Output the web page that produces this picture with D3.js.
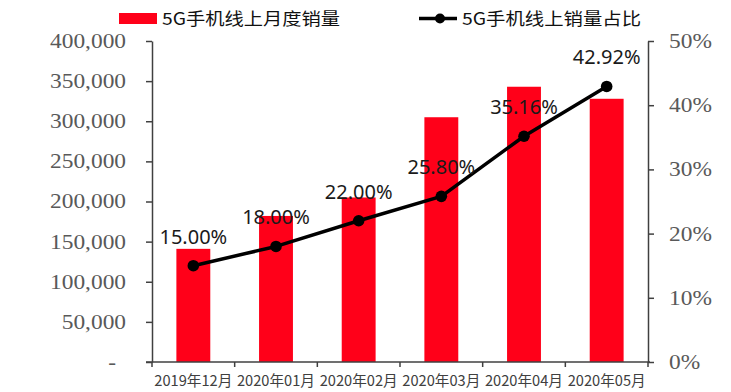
<!DOCTYPE html>
<html>
<head>
<meta charset="utf-8">
<script src="https://cdn.jsdelivr.net/npm/d3@7"></script>
<style>
  html, body { margin: 0; padding: 0; background: #fff; }
  svg { display: block; }
</style>
</head>
<body>
<script>
const categories = ["2019年12月", "2020年01月", "2020年02月", "2020年03月", "2020年04月", "2020年05月"];
const salesValues = [141000, 182000, 205000, 305000, 343000, 328000];
const shareValues = [15.00, 18.00, 22.00, 25.80, 35.16, 42.92];
const leftTicks = [0, 50000, 100000, 150000, 200000, 250000, 300000, 350000, 400000];
const rightTicks = [0, 10, 20, 30, 40, 50];
const legendLabels = ["5G手机线上月度销量", "5G手机线上销量占比"];

const W = 731, H = 392;
const plot = { left: 152, right: 648, top: 41, bottom: 362 };
const barColor = "#FF0019";
const axisColor = "#404040";
const tickTextColor = "#595959";
const sx = 1.17;

const svg = d3.select("body").append("svg").attr("width", W).attr("height", H);

const x = d3.scaleBand().domain(categories).range([plot.left, plot.right]).padding(0);
const yL = d3.scaleLinear().domain([0, 400000]).range([plot.bottom, plot.top]);
const yR = d3.scaleLinear().domain([0, 50]).range([plot.bottom, plot.top]);
const bw = x.bandwidth();
const barW = bw * 0.41;

// Bars
svg.append("g").selectAll("rect").data(categories).join("rect")
  .attr("x", (d) => x(d) + (bw - barW) / 2)
  .attr("y", (d, i) => yL(salesValues[i]))
  .attr("width", barW)
  .attr("height", (d, i) => yL(0) - yL(salesValues[i]))
  .attr("fill", barColor);

// Left axis
const fmt = d3.format(",");
const gL = svg.append("g").attr("transform", `translate(${plot.left},0)`)
  .call(d3.axisLeft(yL).tickValues(leftTicks).tickSize(6).tickSizeOuter(0)
    .tickFormat((d) => d === 0 ? "-" : fmt(d)));
gL.select(".domain").attr("stroke", axisColor).attr("stroke-width", 1.5);
gL.selectAll(".tick line").attr("stroke", axisColor).attr("stroke-width", 1.5);
gL.selectAll(".tick text")
  .attr("x", (d) => d === 0 ? -36 / sx : -26 / sx)
  .attr("transform", `scale(${sx},1)`)
  .attr("fill", tickTextColor)
  .style("font-family", "'Liberation Serif', 'Times New Roman', serif")
  .style("font-size", "20px");

// Right axis
const gR = svg.append("g").attr("transform", `translate(${plot.right},0)`)
  .call(d3.axisRight(yR).tickValues(rightTicks).tickSize(6).tickSizeOuter(0)
    .tickFormat((d) => d + "%"));
gR.select(".domain").attr("stroke", axisColor).attr("stroke-width", 1.5);
gR.selectAll(".tick line").attr("stroke", axisColor).attr("stroke-width", 1.5);
gR.selectAll(".tick text")
  .attr("x", 21 / sx)
  .attr("transform", `scale(${sx},1)`)
  .attr("fill", tickTextColor)
  .style("font-family", "'Liberation Serif', 'Times New Roman', serif")
  .style("font-size", "20px");

// Bottom axis line and boundary ticks
const bounds = categories.map((c) => x(c)).concat([plot.right]);
const gB = svg.append("g");
gB.append("line").attr("x1", plot.left - 6).attr("x2", plot.right + 2)
  .attr("y1", plot.bottom).attr("y2", plot.bottom)
  .attr("stroke", axisColor).attr("stroke-width", 1.5);
gB.selectAll("line.bt").data(bounds).join("line").attr("class", "bt")
  .attr("x1", (d) => d).attr("x2", (d) => d)
  .attr("y1", plot.bottom).attr("y2", plot.bottom + 5)
  .attr("stroke", axisColor).attr("stroke-width", 1.5);
gB.selectAll("text").data(categories).join("text")
  .attr("x", (d) => x(d) + bw / 2)
  .attr("y", 380.5)
  .attr("dy", "0.35em")
  .attr("text-anchor", "middle")
  .attr("textLength", 78)
  .attr("lengthAdjust", "spacingAndGlyphs")
  .attr("fill", "#404040")
  .style("font-family", "'Noto Sans CJK SC', sans-serif")
  .style("font-size", "15px")
  .text((d) => d);

// Line
const line = d3.line()
  .x((d, i) => x(categories[i]) + bw / 2)
  .y((d) => yR(d));
svg.append("path").datum(shareValues)
  .attr("d", line)
  .attr("fill", "none")
  .attr("stroke", "#000")
  .attr("stroke-width", 3.5)
  .attr("stroke-linejoin", "round");
svg.append("g").selectAll("circle").data(shareValues).join("circle")
  .attr("cx", (d, i) => x(categories[i]) + bw / 2)
  .attr("cy", (d) => yR(d))
  .attr("r", 5.8)
  .attr("fill", "#000");

// Data labels
svg.append("g").selectAll("text").data(shareValues).join("text")
  .attr("x", (d, i) => x(categories[i]) + bw / 2)
  .attr("y", (d) => yR(d) - 22)
  .attr("text-anchor", "middle")
  .attr("fill", "#1a1a1a")
  .style("font-family", "'Noto Sans', sans-serif")
  .style("font-size", "20px")
  .text((d) => d.toFixed(2) + "%");

// Legend
const lg = svg.append("g");
lg.append("rect").attr("x", 119).attr("y", 13).attr("width", 38).attr("height", 11).attr("fill", barColor);
lg.append("text").attr("x", 162).attr("y", 19.5).attr("dy", "0.35em")
  .attr("textLength", 178).attr("lengthAdjust", "spacingAndGlyphs")
  .attr("fill", "#111")
  .style("font-family", "'Noto Sans CJK SC', sans-serif").style("font-size", "17px")
  .text(legendLabels[0]);
lg.append("line").attr("x1", 419).attr("x2", 457).attr("y1", 18.5).attr("y2", 18.5)
  .attr("stroke", "#000").attr("stroke-width", 3.5);
lg.append("circle").attr("cx", 440).attr("cy", 18.5).attr("r", 5).attr("fill", "#000");
lg.append("text").attr("x", 462).attr("y", 19.5).attr("dy", "0.35em")
  .attr("textLength", 179).attr("lengthAdjust", "spacingAndGlyphs")
  .attr("fill", "#111")
  .style("font-family", "'Noto Sans CJK SC', sans-serif").style("font-size", "17px")
  .text(legendLabels[1]);
</script>
</body>
</html>
